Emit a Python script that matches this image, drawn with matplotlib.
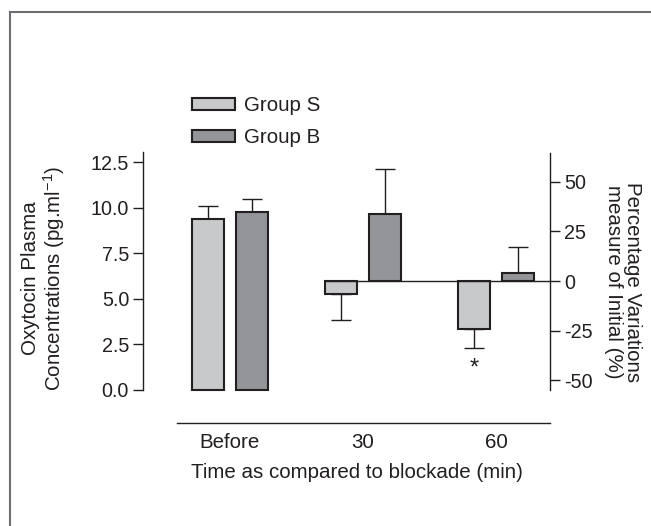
import numpy as np
import matplotlib.pyplot as plt
from matplotlib.patches import Patch
from matplotlib.lines import Line2D

plt.rcParams['font.family'] = ['Liberation Sans', 'DejaVu Sans']
plt.rcParams['mathtext.fontset'] = 'custom'
plt.rcParams['mathtext.rm'] = 'Liberation Sans'
plt.rcParams['mathtext.it'] = 'Liberation Sans:italic'
plt.rcParams['axes.unicode_minus'] = False

# data
groups = ["Before", "30", "60"]
series = ["Group S", "Group B"]
# absolute concentrations before blockade (pg/ml)
before_vals = [9.37, 9.76]
before_err = [0.71, 0.71]
# percentage variation of initial at 30 and 60 min
s_pct = [-6.5, -24.1]
s_pct_err = [13.1, 9.6]
b_pct = [33.7, 4.0]
b_pct_err = [22.6, 13.1]
star_y = -44.0

light = "#c8c9cb"
dark = "#939598"
ink = "#231f20"
fs = 14.8
fs_tick = 14.2

W, H = 651, 526
fig = plt.figure(figsize=(W / 100, H / 100), dpi=100)

# outer frame (left and top only)
fig.add_artist(Line2D([9.5 / W, 9.5 / W], [0, 514 / H], color="#6d6e71", lw=1.5,
                      transform=fig.transFigure))
fig.add_artist(Line2D([9.5 / W, 1], [514 / H, 514 / H], color="#6d6e71", lw=1.5,
                      transform=fig.transFigure))

ax = fig.add_axes([143 / W, (H - 423) / H, (550 - 143) / W, (423 - 152) / H])
ax2 = ax.twinx()

x = np.arange(len(groups))
w = 0.24
off = 0.166
bar_kw = dict(width=w, edgecolor=ink, linewidth=1.5, zorder=3)
err_kw = dict(fmt="none", ecolor=ink, elinewidth=1.0, capsize=7.5, capthick=1.0, zorder=2)

# left axis: before values
ax.bar(x[0] - off, before_vals[0], color=light, **bar_kw)
ax.bar(x[0] + off, before_vals[1], color=dark, **bar_kw)
ax.errorbar([x[0] - off, x[0] + off], before_vals,
            yerr=[[0, 0], before_err], **err_kw)

# right axis: percentage variation
ax2.bar(x[1:] - off, s_pct, color=light, **bar_kw)
ax2.bar(x[1:] + off, b_pct, color=dark, **bar_kw)
s_lo = [e if v < 0 else 0 for v, e in zip(s_pct, s_pct_err)]
s_hi = [e if v >= 0 else 0 for v, e in zip(s_pct, s_pct_err)]
b_lo = [e if v < 0 else 0 for v, e in zip(b_pct, b_pct_err)]
b_hi = [e if v >= 0 else 0 for v, e in zip(b_pct, b_pct_err)]
ax2.errorbar(x[1:] - off, s_pct, yerr=[s_lo, s_hi], **err_kw)
ax2.errorbar(x[1:] + off, b_pct, yerr=[b_lo, b_hi], **err_kw)

xl = (-0.654, 2.406)
ax.set_xlim(*xl)
ax2.set_xlim(*xl)
ax2.hlines(0, x[1] - off - w / 2, xl[1], color=ink, lw=1.0, zorder=4)
ax2.text(x[2] - off, star_y, "*", ha="center", va="center", fontsize=17, color=ink)

ax.set_ylim(-1.81, 13.05)
ax2.set_ylim(-71.4, 64.9)

ax.set_yticks([0, 2.5, 5, 7.5, 10, 12.5])
ax.set_yticklabels(["0.0", "2.5", "5.0", "7.5", "10.0", "12.5"])
ax2.set_yticks([-50, -25, 0, 25, 50])
ax.set_xticks(x)
ax.set_xticklabels(groups)

for a in (ax, ax2):
    a.set_facecolor("none")
    for s in a.spines.values():
        s.set_visible(False)
    a.tick_params(labelsize=fs_tick, colors=ink, width=1.0, length=7, pad=3)
ax.tick_params(axis="x", length=0, pad=7, labelsize=fs)

ax.spines["left"].set_visible(True)
ax.spines["left"].set_bounds(0, 13.05)
ax.spines["bottom"].set_visible(True)
ax.spines["bottom"].set_bounds(-0.40, xl[1])
ax2.spines["right"].set_visible(True)
ax2.spines["right"].set_bounds(-55, 64.5)
for s in (ax.spines["left"], ax.spines["bottom"], ax2.spines["right"]):
    s.set_color(ink)
    s.set_linewidth(1.0)

fig.text(44 / W, 1 - 278 / H, "Oxytocin Plasma\nConcentrations (pg.ml$^{-1}$)",
         rotation=90, ha="center", va="center", fontsize=fs, color=ink,
         multialignment="center", linespacing=1.05)
fig.text(623 / W, 1 - 282 / H, "Percentage Variations\nmeasure of Initial (%)",
         rotation=270, ha="center", va="center", fontsize=fs, color=ink,
         multialignment="center", linespacing=1.05)
fig.text(357 / W, 1 - 472 / H, "Time as compared to blockade (min)",
         ha="center", va="center", fontsize=fs, color=ink)

handles = [Patch(facecolor=light, edgecolor=ink, linewidth=1.5),
           Patch(facecolor=dark, edgecolor=ink, linewidth=1.5)]
ax.legend(handles, series, loc="upper left", bbox_to_anchor=(192 / W, 1 - 96 / H),
          bbox_transform=fig.transFigure, frameon=False, fontsize=fs,
          borderpad=0, borderaxespad=0, handlelength=2.1, handleheight=0.5,
          handletextpad=0.45, labelspacing=0.65, labelcolor=ink)

fig.savefig("out.png", dpi=100)
